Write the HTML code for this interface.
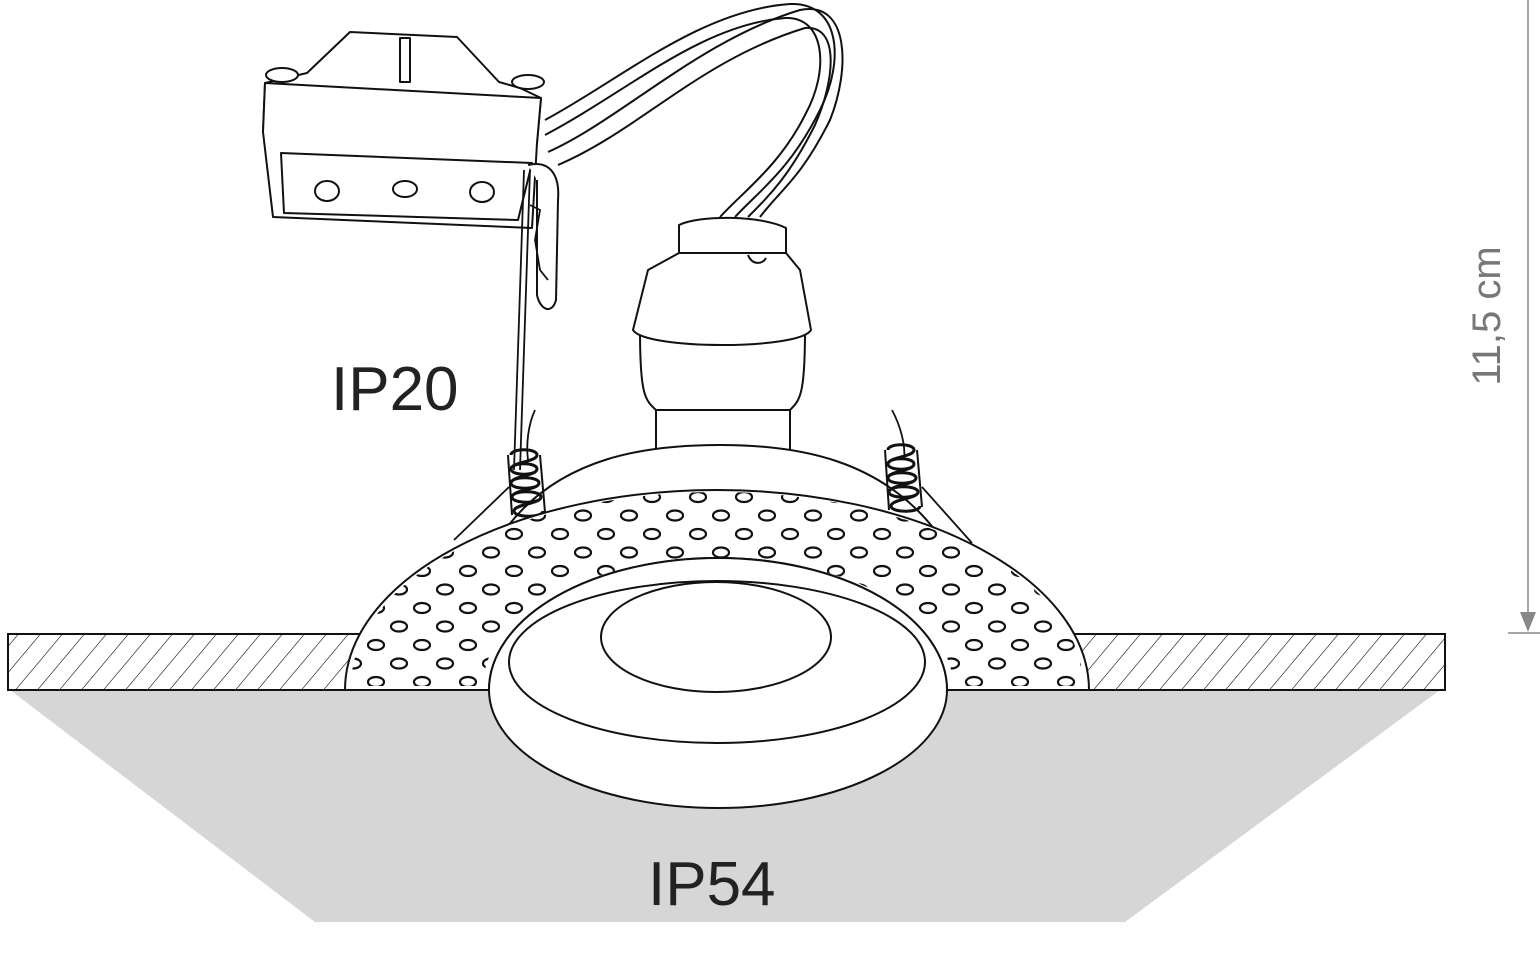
<!DOCTYPE html>
<html><head><meta charset="utf-8"><style>
html,body{margin:0;padding:0;background:#fff;}
svg{display:block;}
text{font-family:"Liberation Sans",sans-serif;}
</style></head><body>
<svg id="s" width="1540" height="956" viewBox="0 0 1540 956" xmlns="http://www.w3.org/2000/svg">
<defs>
<pattern id="hatch" patternUnits="userSpaceOnUse" width="22" height="60" patternTransform="skewX(-40)">
<line x1="0" y1="0" x2="0" y2="60" stroke="#111" stroke-width="1.6"/>
</pattern>
<clipPath id="ringclip">
<path d="M351,686 A366,194 0 0 1 1083,686 L953,686 A235,128 0 0 0 483,686 Z"/>
</clipPath>
</defs>
<polygon points="10,690 1440,690 1125,922 315,922" fill="#d6d6d6"/>
<rect x="8" y="634" width="1437" height="56" fill="url(#hatch)" stroke="#111" stroke-width="2"/>
<g fill="none" stroke="#111" stroke-width="2">
<path d="M545,120 C620,80 700,10 790,4 C840,2 845,60 820,110 C790,170 760,190 735,217"/>
<path d="M545,135 C630,90 700,25 785,18 C825,16 830,70 805,115 C780,165 745,190 720,217"/>
<path d="M548,152 C620,120 700,40 800,10 C850,0 850,70 830,120 C800,180 780,190 760,217"/>
<path d="M558,165 C640,130 700,60 805,28 C840,25 835,80 815,125 C790,175 770,195 748,217"/>
</g>
<g fill="#fff" stroke="#111" stroke-width="2" stroke-linejoin="round">
<path d="M307,73 L350,32 L457,37 L499,82 L520,88 L541,98 L537,143 L263,132 L265,83 Z"/>
<path d="M265,83 L541,98 L537,143 L532,228 L273,217 L263,132 Z"/>
<path d="M281,153 L532,163 L518,220 L284,213 Z"/>
<rect x="400" y="38" width="10" height="44"/>
<ellipse cx="282" cy="75" rx="16" ry="7"/>
<ellipse cx="528" cy="82" rx="16" ry="7"/>
<ellipse cx="327" cy="191" rx="12" ry="10"/>
<ellipse cx="405" cy="189" rx="12" ry="8"/>
<ellipse cx="482" cy="192" rx="12" ry="10"/>
<path d="M528,165 C550,160 560,175 558,200 L556,300 C552,315 540,310 537,295 L537,180"/>
</g>
<g fill="none" stroke="#111" stroke-width="1.8">
<line x1="524" y1="170" x2="514" y2="470"/>
<line x1="530" y1="170" x2="520" y2="470"/>
<path d="M530,205 L540,210 L535,240 L540,270 L548,280"/>
<path d="M535,410 C528,425 526,445 528,460"/>
<path d="M892,410 C900,425 906,445 904,460"/>
<line x1="454" y1="540" x2="509" y2="487"/>
<line x1="922" y1="487" x2="972" y2="543"/>
</g>
<g fill="#fff" stroke="#111" stroke-width="2" stroke-linejoin="round">
<rect x="656" y="395" width="134" height="70"/>
<path d="M640,330 C640,395 645,400 656,410 L790,410 C800,400 805,395 805,330 Z"/>
<path d="M633,330 L648,270 L679,253 L786,253 L800,270 L811,330 C800,350 645,350 633,330 Z"/>
<path d="M679,253 L679,225 C700,215 760,215 786,228 L786,253 Z"/>
<path d="M748,255 C752,265 762,265 766,258"/>
</g>
<path d="M505,530 C560,455 650,445 720,445 C800,445 880,460 935,530 Z" fill="#fff" stroke="#111" stroke-width="2"/>
<g fill="none" stroke="#111" stroke-width="3">
<g id="spl">
<path d="M511,455 C511,448 537,448 537,455 C537,462 511,462 511,469 C511,476 537,476 537,469 M511,469 C511,462 537,462 537,469 C537,476 511,476 511,483 C511,490 539,490 539,483 M511,483 C511,476 539,476 539,483 C539,490 512,490 512,497 C512,504 541,504 541,497 M512,497 C512,490 541,490 541,497 C541,504 514,504 514,511 C514,518 543,518 543,511"/>
<line x1="508" y1="455" x2="512" y2="515" stroke-width="2"/>
<line x1="540" y1="455" x2="545" y2="512" stroke-width="2"/>
</g>
<use href="#spl" transform="translate(377,-5)"/>
</g>
<path d="M345,690 A372,200 0 0 1 1089,690 L947,690 A229,132 0 0 0 489,690 Z" fill="#fff" stroke="#111" stroke-width="2"/>
<g id="dots" clip-path="url(#ringclip)" fill="none" stroke="#111" stroke-width="2.2"></g>
<path d="M489,690 A229,132 0 0 1 947,690 A229,118 0 0 1 489,690 Z" fill="#fff" stroke="#111" stroke-width="2"/>
<ellipse cx="717" cy="662" rx="208" ry="81" fill="#fff" stroke="#111" stroke-width="2"/>
<ellipse cx="716" cy="637" rx="115" ry="55" fill="#fff" stroke="#111" stroke-width="2"/>
<text x="331" y="410" font-size="62" fill="#222">IP20</text>
<text x="648" y="905" font-size="62" fill="#222">IP54</text>
<line x1="1528" y1="0" x2="1528" y2="622" stroke="#888" stroke-width="1.5"/>
<polygon points="1520,612 1536,612 1528,632" fill="#888"/>
<line x1="1508" y1="633" x2="1540" y2="633" stroke="#888" stroke-width="1.5"/>
<text x="0" y="0" font-size="40" fill="#777" text-anchor="middle" transform="translate(1500,316) rotate(-90)">11,5 cm</text>
</svg>
<script>
(function(){
var g=document.getElementById('dots'),h='';
var r=0;
for(var y=497;y<700;y+=18.5){
 var off=(r%2)?23:0;
 for(var x=330+off;x<1110;x+=46){
  var xx=x+ (y-497)*0.0, yy=y;
  h+='<ellipse cx="'+xx.toFixed(1)+'" cy="'+yy.toFixed(1)+'" rx="8" ry="5"/>';
 }
 r++;
}
g.innerHTML=h;
})();
</script>
</body></html>
